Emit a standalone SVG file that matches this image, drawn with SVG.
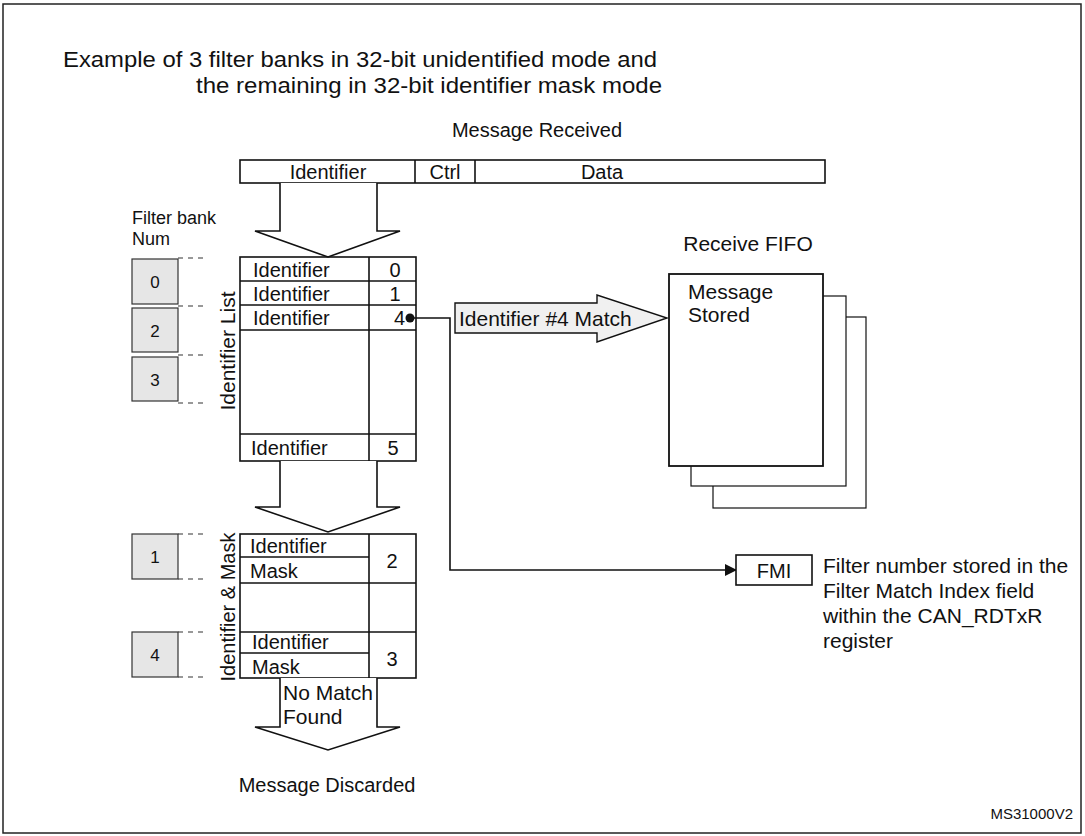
<svg xmlns="http://www.w3.org/2000/svg" width="1085" height="836" viewBox="0 0 1085 836">
<style>
text{font-family:"Liberation Sans",Arial,sans-serif;fill:#111}
.t{font-size:20px}
.s{font-size:17px}
.m{font-size:21px}
.b{fill:#fff;stroke:#111;stroke-width:1.6}
.n{fill:#e6e6e6;stroke:#333;stroke-width:1.2}
.l{stroke:#111;stroke-width:1.6;fill:none}
.d{stroke:#333;stroke-width:1.2;stroke-dasharray:5 5}
.arr{fill:#fff;stroke:#111;stroke-width:1.6}
</style>
<defs><marker id="ah" markerWidth="12" markerHeight="12" refX="11" refY="6" orient="auto" markerUnits="userSpaceOnUse"><path d="M0,0 L12,6 L0,12 z" fill="#111"/></marker></defs>
<rect x="0" y="0" width="1085" height="836" fill="#fff"/>
<rect x="3" y="4" width="1078" height="829" fill="none" stroke="#222" stroke-width="1.5"/>
<text x="63" y="67" font-size="22" textLength="594" lengthAdjust="spacingAndGlyphs">Example of 3 filter banks in 32-bit unidentified mode and</text>
<text x="196" y="93" font-size="22" textLength="466" lengthAdjust="spacingAndGlyphs">the remaining in 32-bit identifier mask mode</text>
<text x="537" y="137" font-size="20" text-anchor="middle">Message Received</text>
<g id="message">
<rect class="b" x="240" y="160" width="585" height="23"/>
<line class="l" x1="415" y1="160" x2="415" y2="183"/><line class="l" x1="475" y1="160" x2="475" y2="183"/>
<text class="t" x="328" y="179" text-anchor="middle">Identifier</text>
<text class="t" x="445" y="179" text-anchor="middle">Ctrl</text>
<text class="t" x="602" y="179" text-anchor="middle">Data</text>
</g>
<text x="132" y="224" font-size="18">Filter bank</text>
<text x="132" y="245" font-size="18">Num</text>
<g id="banks">
<rect class="n" x="132" y="259" width="46" height="45"/><text class="s" x="155" y="288" text-anchor="middle">0</text>
<rect class="n" x="132" y="308" width="46" height="44"/><text class="s" x="155" y="337" text-anchor="middle">2</text>
<rect class="n" x="132" y="357" width="46" height="44"/><text class="s" x="155" y="386" text-anchor="middle">3</text>
<rect class="n" x="132" y="534" width="46" height="45"/><text class="s" x="155" y="563" text-anchor="middle">1</text>
<rect class="n" x="132" y="632" width="46" height="45"/><text class="s" x="155" y="661" text-anchor="middle">4</text>
<line class="d" x1="178" y1="258" x2="208" y2="258"/><line class="d" x1="178" y1="306" x2="208" y2="306"/>
<line class="d" x1="178" y1="355" x2="208" y2="355"/><line class="d" x1="178" y1="403" x2="208" y2="403"/>
<line class="d" x1="178" y1="534" x2="208" y2="534"/><line class="d" x1="178" y1="579" x2="208" y2="579"/>
<line class="d" x1="178" y1="632" x2="208" y2="632"/><line class="d" x1="178" y1="677" x2="208" y2="677"/>
</g>
<text x="0" y="0" font-size="21" text-anchor="middle" transform="translate(235,351) rotate(-90)">Identifier List</text>
<text x="0" y="0" font-size="20" text-anchor="middle" transform="translate(235,607) rotate(-90)">Identifier &amp; Mask</text>
<g id="list">
<rect class="b" x="240" y="257" width="176" height="204"/>
<line class="l" x1="369" y1="257" x2="369" y2="461"/>
<line class="l" x1="240" y1="281" x2="416" y2="281"/><line class="l" x1="240" y1="305" x2="416" y2="305"/>
<line class="l" x1="240" y1="330" x2="416" y2="330"/><line class="l" x1="240" y1="434" x2="416" y2="434"/>
<text class="t" x="253" y="277">Identifier</text><text class="t" x="395" y="277" text-anchor="middle">0</text>
<text class="t" x="253" y="301">Identifier</text><text class="t" x="395" y="301" text-anchor="middle">1</text>
<text class="t" x="253" y="325">Identifier</text><text class="t" x="405" y="325" text-anchor="end">4</text>
<text class="t" x="251" y="455">Identifier</text><text class="t" x="393" y="455" text-anchor="middle">5</text>
</g>
<g id="masklist">
<rect class="b" x="240" y="534" width="176" height="144"/>
<line class="l" x1="369" y1="534" x2="369" y2="678"/>
<line class="l" x1="240" y1="557" x2="369" y2="557"/>
<line class="l" x1="240" y1="583" x2="416" y2="583" stroke-width="2.2"/>
<line class="l" x1="240" y1="632" x2="416" y2="632"/>
<line class="l" x1="240" y1="653" x2="369" y2="653"/>
<text class="t" x="250" y="553">Identifier</text><text class="t" x="250" y="578">Mask</text>
<text class="t" x="392" y="568" text-anchor="middle">2</text>
<text class="t" x="252" y="649">Identifier</text><text class="t" x="252" y="674">Mask</text>
<text class="t" x="392" y="666" text-anchor="middle">3</text>
</g>
<g id="arrows">
<path class="arr" d="M280,183 V231 H255 L328,257 L400,231 H377 V183"/>
<path class="arr" d="M280,461 V507 H255 L328,532 L400,507 H377 V461"/>
<path class="arr" d="M280,678 V727 H255 L328,750 L400,727 H377 V678"/>
<path d="M455,303 H597 V295 L667,318 L597,342 V333 H455 Z" fill="#f0f0f0" stroke="#111" stroke-width="1.4"/>
<text x="459" y="326" class="m">Identifier #4 Match</text>
<path class="l" d="M410,318 H450 V570 H736" stroke-width="1.3" marker-end="url(#ah)"/>
<circle cx="410" cy="318" r="4.5" fill="#111"/>
</g>
<text x="283" y="700" font-size="21">No Match</text>
<text x="283" y="724" font-size="21">Found</text>
<text x="327" y="792" font-size="20" text-anchor="middle">Message Discarded</text>
<text x="748" y="251" class="m" text-anchor="middle">Receive FIFO</text>
<g id="fifo">
<rect x="713" y="317" width="153" height="191" fill="#fff" stroke="#111" stroke-width="1.2"/>
<rect x="691" y="296" width="155" height="190" fill="#fff" stroke="#111" stroke-width="1.2"/>
<rect x="669" y="274" width="154" height="192" fill="#fff" stroke="#111" stroke-width="1.8"/>
<text class="m" x="688" y="299">Message</text><text class="m" x="688" y="322">Stored</text>
</g>
<g id="fmi">
<rect class="b" x="736" y="555" width="76" height="30" stroke-width="1.3"/>
<text class="t" x="774" y="578" text-anchor="middle">FMI</text>
<text class="m" x="823" y="573">Filter number stored in the</text>
<text class="m" x="823" y="598">Filter Match Index field</text>
<text class="m" x="823" y="623">within the CAN_RDTxR</text>
<text class="m" x="823" y="648">register</text>
</g>
<text x="1073" y="819" font-size="15" text-anchor="end">MS31000V2</text>
</svg>
